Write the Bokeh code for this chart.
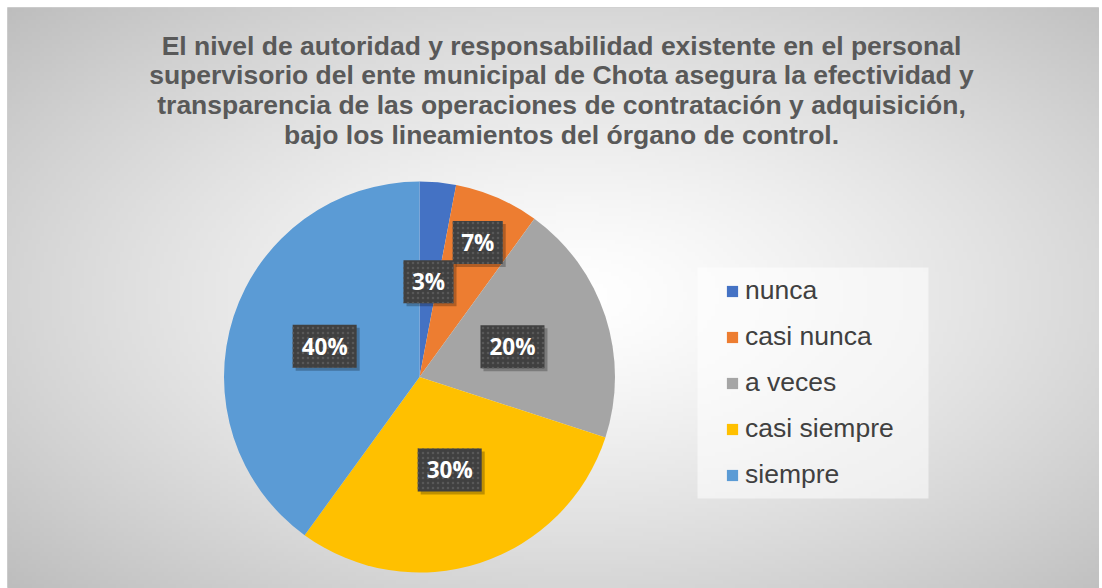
import numpy as np
from bokeh.plotting import figure
from bokeh.models import ColumnDataSource, Label
from bokeh.core.properties import value
from bokeh.embed import file_html
from bokeh.resources import INLINE

# ---- data ----
categories = ["nunca", "casi nunca", "a veces", "casi siempre", "siempre"]
percents = [3, 7, 20, 30, 40]
colors = ["#4472C4", "#ED7D31", "#A5A5A5", "#FFC000", "#5B9BD5"]
title_lines = [
    "El nivel de autoridad y responsabilidad existente en el personal",
    "supervisorio del ente municipal de Chota asegura la efectividad y",
    "transparencia de las operaciones de contratación y adquisición,",
    "bajo los lineamientos del órgano de control.",
]
label_radius_frac = [0.49, 0.75, 0.5, 0.5, 0.51]

FW, FH = 1092, 581
p = figure(width=FW + 7, height=FH + 7, x_range=(0, FW), y_range=(0, FH),
           x_axis_type=None, y_axis_type=None, output_backend="svg",
           toolbar_location=None, min_border_left=7, min_border_top=7,
           min_border_right=0, min_border_bottom=0)
p.grid.visible = False
p.outline_line_color = "#d0d0d0"
p.background_fill_color = "#e0e0e0"
p.border_fill_color = "white"

# radial gradient background
gw, gh = 273, 145
yy, xx = np.mgrid[0:gh, 0:gw]
cx, cy = gw * 0.52, gh * 0.5
r = np.sqrt(((xx - cx) / (gw / 2)) ** 2 + ((yy - cy) / (gh / 2)) ** 2) / np.sqrt(2)
v = np.clip(255 - 64 * r ** 1.3, 0, 255).astype(np.uint32)
img = np.empty((gh, gw), dtype=np.uint32)
view = img.view(dtype=np.uint8).reshape((gh, gw, 4))
view[:, :, 0] = v
view[:, :, 1] = v
view[:, :, 2] = v
view[:, :, 3] = 255
p.image_rgba(image=[img], x=0, y=0, dw=FW, dh=FH)

# pie
cx0, cy0, R = 412, 211.5, 195.5
vals = np.array(percents, dtype=float)
frac = vals / vals.sum()
cum = np.concatenate([[0], np.cumsum(frac)])
start = np.pi / 2 - cum[:-1] * 2 * np.pi
end = np.pi / 2 - cum[1:] * 2 * np.pi
mid = (start + end) / 2
src = ColumnDataSource(dict(cat=categories, start=start, end=end, color=colors))
p.wedge(x=cx0, y=cy0, radius=R, start_angle="start", end_angle="end",
        direction="clock", fill_color="color", line_color=None,
        source=src, legend_field="cat")

# data labels
lx = cx0 + np.array(label_radius_frac) * R * np.cos(mid)
ly = cy0 + np.array(label_radius_frac) * R * np.sin(mid)
texts = [f"{v}%" for v in percents]
bw = [22 + 14 * len(t) for t in texts]
p.rect(x=lx + 3, y=ly - 3, width=bw, height=43, fill_color="black",
       fill_alpha=0.25, line_color=None)
p.rect(x=lx, y=ly, width=bw, height=43, fill_color="#404040", line_color=None,
       hatch_pattern=".", hatch_color="#585858", hatch_scale=5, hatch_weight=1)
p.text(x=lx, y=ly, text=texts, text_font=value("Open Sans"),
       text_font_style="bold", text_font_size="22.5px", text_color="white",
       text_align="center", text_baseline="middle")

# legend background box
p.rect(x=805.5, y=205.5, width=231, height=231, fill_color="white",
       fill_alpha=0.55, line_color=None)

lg = p.legend[0]
lg.location = (718, 98)
lg.background_fill_alpha = 0
lg.border_line_color = None
lg.padding = 0
lg.margin = 0
lg.glyph_width = 14
lg.glyph_height = 14
lg.label_standoff = 6
lg.spacing = 15
lg.label_text_font = "Liberation Sans"
lg.label_text_font_size = "26.5px"
lg.label_text_color = "#404040"

# title
for i, line in enumerate(title_lines):
    p.add_layout(Label(x=554, y=543 - 29.7 * i, text=line, text_align="center",
                       text_baseline="middle", text_font="Liberation Sans",
                       text_font_style="bold", text_font_size="26.5px",
                       text_color="#595959"))

open("out.html", "w").write(file_html(p, INLINE))
